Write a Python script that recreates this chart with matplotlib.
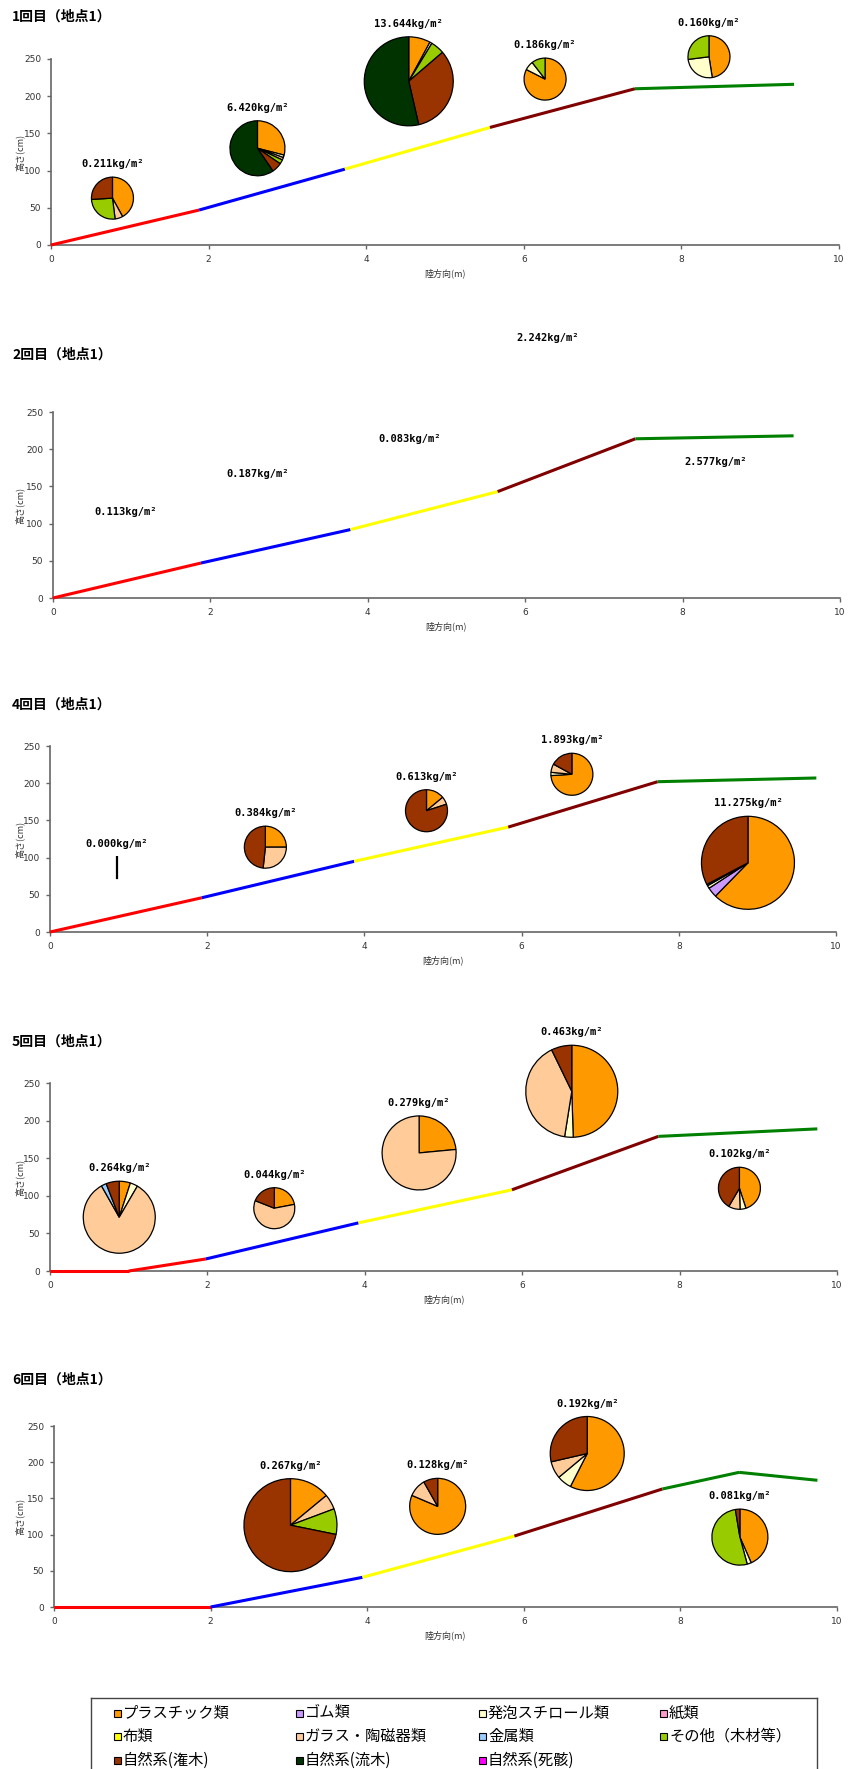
import matplotlib
matplotlib.use('Agg')
import matplotlib.pyplot as plt
from matplotlib.patches import Rectangle

plt.rcParams['font.family'] = ['Noto Sans CJK JP', 'DejaVu Sans']

W, H, DPI = 850, 1769, 100

# ---------------- data ----------------
categories = ['プラスチック類', 'ゴム類', '発泡スチロール類', '紙類',
              '布類', 'ガラス・陶磁器類', '金属類', 'その他（木材等）',
              '自然系(潅木)', '自然系(流木)', '自然系(死骸)']
cat_colors = ['#FF9900', '#CC99FF', '#FFFFCC', '#FF99CC',
              '#FFFF00', '#FFCC99', '#99CCFF', '#99CC00',
              '#993300', '#003300', '#FF00FF']

titles = ['1回目（地点1）', '2回目（地点1）', '4回目（地点1）', '5回目（地点1）', '6回目（地点1）']
seg_colors = ['#FF0000', '#0000FF', '#FFFF00', '#800000', '#008000']

x_ticks = [0, 2, 4, 6, 8, 10]
y_ticks = [0, 50, 100, 150, 200, 250]

# beach profiles (distance m, height cm) and colour index of each segment
prof1_x = [0, 1.88, 3.73, 5.57, 7.41, 9.43]
prof1_y = [0, 47, 102, 158, 210, 216]
prof1_seg = [0, 1, 2, 3, 4]
prof2_x = [0, 1.88, 3.78, 5.65, 7.40, 9.41]
prof2_y = [0, 47, 92, 143, 214, 218]
prof2_seg = [0, 1, 2, 3, 4]
prof4_x = [0, 1.93, 3.87, 5.83, 7.73, 9.75]
prof4_y = [0, 46, 95, 141, 202, 207]
prof4_seg = [0, 1, 2, 3, 4]
prof5_x = [0, 1.0, 1.98, 3.92, 5.87, 7.73, 9.75]
prof5_y = [0, 0, 16, 64, 108, 179, 189]
prof5_seg = [0, 0, 1, 2, 3, 4]
prof6_x = [0, 2.0, 3.94, 5.88, 7.77, 8.75, 9.75]
prof6_y = [0, 0, 41, 98, 163, 186, 175]
prof6_seg = [0, 1, 2, 3, 4, 4]

# litter weights (kg/m2), pie centres (m, cm) and composition (%) per category
w1 = [0.211, 6.420, 13.644, 0.186, 0.160]
px1 = [0.78, 2.62, 4.54, 6.27, 8.35]
py1 = [63, 130, 220, 223, 253]
comp1 = [
    [42, 0, 0, 0, 0, 6, 0, 26, 26, 0, 0],
    [29, 0, 1.5, 0, 0, 1.5, 0, 2.5, 6, 59.5, 0],
    [7.9, 0, 0.8, 0, 0, 0, 0, 5, 32.7, 53.6, 0],
    [82.5, 0, 7, 0, 0, 0, 0, 10.5, 0, 0, 0],
    [47.5, 0, 25.5, 0, 0, 0, 0, 27, 0, 0, 0],
]

w2 = [0.113, 0.187, 0.083, 2.242, 2.577]
lx2 = [0.92, 2.60, 4.53, 6.29, 8.42]
ly2 = [115, 167, 214, 350, 183]

w4 = [0.000, 0.384, 0.613, 1.893, 11.275]
px4 = [0.85, 2.74, 4.79, 6.64, 8.88]
py4 = [73, 114, 163, 212, 93]
comp4 = [
    [0, 0, 0, 0, 0, 0, 0, 0, 0, 0, 0],
    [25, 0, 0, 0, 0, 26.7, 0, 0, 48.3, 0, 0],
    [14, 0, 0, 0, 0, 6, 0, 0, 80, 0, 0],
    [74, 0, 2.5, 0, 0, 6.5, 0, 0, 17, 0, 0],
    [62.3, 3.5, 1, 0, 0, 0, 0, 0.5, 32.7, 0, 0],
]

w5 = [0.264, 0.044, 0.279, 0.463, 0.102]
px5 = [0.88, 2.85, 4.69, 6.63, 8.76]
py5 = [71.5, 83.5, 157, 239, 110]
comp5 = [
    [5, 0, 3.4, 0, 0, 83.4, 2.3, 0, 5.9, 0, 0],
    [22, 0, 0, 0, 0, 59, 0, 0, 19, 0, 0],
    [23.5, 0, 0, 0, 0, 76.5, 0, 0, 0, 0, 0],
    [49.5, 0, 3, 0, 0, 40.3, 0, 0, 7.2, 0, 0],
    [45, 0, 4.5, 0, 0, 8.9, 0, 0, 41.6, 0, 0],
]

w6 = [0.267, 0.128, 0.192, 0.081]
px6 = [3.02, 4.90, 6.81, 8.76]
py6 = [113, 139, 212, 96.5]
comp6 = [
    [14, 0, 0, 0, 0, 5.3, 0, 8.9, 71.8, 0, 0],
    [81.4, 0, 0, 0, 0, 10.4, 0, 0, 8.2, 0, 0],
    [57.5, 0, 6.4, 0, 0, 7.5, 0, 0, 28.6, 0, 0],
    [43.4, 0, 2.4, 0, 0, 0, 0, 51.6, 2.6, 0, 0],
]

# ---------------- layout / style ----------------
pie_diam1 = [42, 55, 89, 42, 42]
pie_diam4 = [42, 42, 42, 42, 93]
pie_diam5 = [72, 41, 74, 92, 42]
pie_diam6 = [93, 56, 74, 56]

axes_px = [(51, 59, 839, 245), (53, 412, 840, 598), (50, 746, 836, 932),
           (50, 1083, 837, 1271), (54, 1426, 837, 1607)]
title_y = [17, 355, 705, 1042, 1380]

fig = plt.figure(figsize=(W / DPI, H / DPI), dpi=DPI)
fig.patch.set_facecolor('white')

LABEL_FONT = dict(family='DejaVu Sans Mono', fontweight='bold', fontsize=7.5)


def make_axes(i):
    l, t, r, b = axes_px[i]
    ax = fig.add_axes([l / W, 1 - b / H, (r - l) / W, (b - t) / H])
    ax.set_xlim(0, 10)
    ax.set_ylim(0, 250)
    ax.set_xticks(x_ticks)
    ax.set_yticks(y_ticks)
    for s in ['top', 'right']:
        ax.spines[s].set_visible(False)
    for s in ['left', 'bottom']:
        ax.spines[s].set_color('#666666')
        ax.spines[s].set_linewidth(1.2)
    ax.tick_params(axis='both', direction='out', length=3, width=1,
                   color='#666666', labelsize=6.5, labelcolor='#333333', pad=4)
    for lab in ax.get_xticklabels() + ax.get_yticklabels():
        lab.set_family('DejaVu Sans')
    ax.set_xlabel('陸方向(m)', fontsize=6.5, color='#333333', va='center')
    ax.xaxis.set_label_coords(0.5, -28 / (b - t))
    ax.set_ylabel('高さ(cm)', fontsize=6.5, color='#333333', va='center')
    ax.yaxis.set_label_coords(-(l - 20) / (r - l), 0.5)
    fig.text(12 / W, 1 - title_y[i] / H, titles[i], fontsize=10,
             fontweight='bold', ha='left', va='center')
    return ax


def draw_profile(ax, xs, ys, seg):
    for k in range(len(xs) - 1):
        ax.plot(xs[k:k + 2], ys[k:k + 2], color=seg_colors[seg[k]], lw=2.2,
                solid_capstyle='butt', clip_on=False, zorder=3)


def draw_pies(ax, ws, xs, ys, comps, diams):
    for w, x, y, comp, d in zip(ws, xs, ys, comps, diams):
        cx, cy = ax.transData.transform((x, y))
        m = 1.05
        pax = fig.add_axes([(cx - d * m / 2) / W, (cy - d * m / 2) / H, d * m / W, d * m / H])
        vals = [v for v in comp if v > 0]
        cols = [c for v, c in zip(comp, cat_colors) if v > 0]
        if vals:
            pax.pie(vals, colors=cols, startangle=90, counterclock=False, radius=1,
                    wedgeprops=dict(edgecolor='black', linewidth=0.9))
        else:
            pax.plot([0, 0], [0, 1], color='black', lw=1.6)
        pax.set_xlim(-m, m)
        pax.set_ylim(-m, m)
        pax.set_aspect('equal')
        pax.axis('off')
        ax.annotate(f'{w:.3f}kg/m²', xy=(x, y), xytext=(0, (d / 2 + 13) * 72 / DPI),
                    textcoords='offset points', ha='center', va='center',
                    annotation_clip=False, **LABEL_FONT)


ax1 = make_axes(0)
draw_profile(ax1, prof1_x, prof1_y, prof1_seg)
draw_pies(ax1, w1, px1, py1, comp1, pie_diam1)

ax2 = make_axes(1)
draw_profile(ax2, prof2_x, prof2_y, prof2_seg)
for w, x, y in zip(w2, lx2, ly2):
    ax2.text(x, y, f'{w:.3f}kg/m²', ha='center', va='center', clip_on=False, **LABEL_FONT)

ax4 = make_axes(2)
draw_profile(ax4, prof4_x, prof4_y, prof4_seg)
draw_pies(ax4, w4, px4, py4, comp4, pie_diam4)

ax5 = make_axes(3)
draw_profile(ax5, prof5_x, prof5_y, prof5_seg)
draw_pies(ax5, w5, px5, py5, comp5, pie_diam5)

ax6 = make_axes(4)
draw_profile(ax6, prof6_x, prof6_y, prof6_seg)
draw_pies(ax6, w6, px6, py6, comp6, pie_diam6)

# ---------------- legend box (bottom border runs off the page) ----------------
lg_l, lg_t, lg_r, lg_b = 91, 1698, 817, 1800
lax = fig.add_axes([lg_l / W, 1 - lg_b / H, (lg_r - lg_l) / W, (lg_b - lg_t) / H])
lax.set_xlim(lg_l, lg_r)
lax.set_ylim(lg_b, lg_t)
lax.set_xticks([])
lax.set_yticks([])
for s in lax.spines.values():
    s.set_color('#444444')
    s.set_linewidth(1.0)
col_x = [117, 299, 482, 663]
row_y = [1713, 1736, 1760]
for i, (name, col) in enumerate(zip(categories, cat_colors)):
    r, c = divmod(i, 4)
    mx, my = col_x[c], row_y[r]
    lax.add_patch(Rectangle((mx - 3.5, my - 3.5), 7, 7, facecolor=col,
                            edgecolor='black', linewidth=0.8))
    lax.text(mx + 6, my, name, fontsize=11, ha='left', va='center')

fig.savefig('out.png', dpi=DPI)
